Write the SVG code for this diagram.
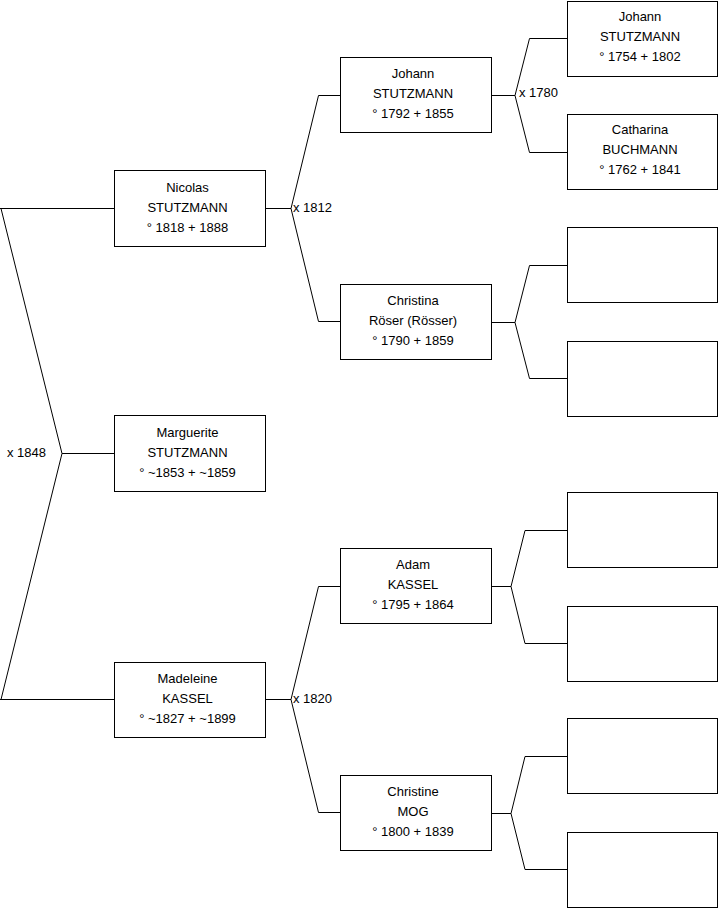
<svg xmlns="http://www.w3.org/2000/svg" width="719" height="908" viewBox="0 0 719 908">
<style>
rect.box{fill:#fff;stroke:#000;stroke-width:1}
path.c{fill:none;stroke:#000;stroke-width:1}
text{font-family:"Liberation Sans",Arial,sans-serif;font-size:13px;fill:#000}
text.n{text-anchor:middle}
</style>
<rect width="719" height="908" fill="#fff"/>
<g id="connectors">
<path class="c" d="M0,208.5 H114 M1,208.5 L62,453.5 L1,699.5 M62,453.5 H114 M0,699.5 H114"/>
<path class="c" d="M265,208.5 H291 M340,95.5 H318.5 L291,208.5 L318.5,321.5 H340"/>
<path class="c" d="M265,699.5 H291 M340,586.5 H318.5 L291,699.5 L318.5,812.5 H340"/>
<path class="c" d="M492,95.5 H515 M567,38.5 H529.5 L515,95.5 L529.5,152.5 H567"/>
<path class="c" d="M492,322.5 H515 M567,265.5 H529.5 L515,322.5 L529.5,378.5 H567"/>
<path class="c" d="M492,586.5 H511 M567,530.5 H525 L511,586.5 L525,643.5 H567"/>
<path class="c" d="M492,813.5 H511 M567,756.5 H525 L511,813.5 L525,869.5 H567"/>
<text x="7" y="457">x 1848</text>
<text x="293" y="212">x 1812</text>
<text x="293" y="703">x 1820</text>
<text x="519" y="97">x 1780</text>
</g>
<g id="nicolas"><rect class="box" x="114.5" y="170.5" width="151" height="76"/>
<text class="n" x="187.5" y="192">Nicolas</text><text class="n" x="187.5" y="212">STUTZMANN</text><text class="n" x="187.5" y="232">° 1818 + 1888</text></g>
<g id="marguerite"><rect class="box" x="114.5" y="415.5" width="151" height="76"/>
<text class="n" x="187.5" y="437">Marguerite</text><text class="n" x="187.5" y="457">STUTZMANN</text><text class="n" x="187.5" y="477">° ~1853 + ~1859</text></g>
<g id="madeleine"><rect class="box" x="114.5" y="662.5" width="151" height="75"/>
<text class="n" x="187.5" y="683">Madeleine</text><text class="n" x="187.5" y="703">KASSEL</text><text class="n" x="187.5" y="723">° ~1827 + ~1899</text></g>
<g id="johann1"><rect class="box" x="340.5" y="57.5" width="151" height="75"/>
<text class="n" x="413" y="78">Johann</text><text class="n" x="413" y="98">STUTZMANN</text><text class="n" x="413" y="118">° 1792 + 1855</text></g>
<g id="christina"><rect class="box" x="340.5" y="284.5" width="151" height="75"/>
<text class="n" x="413" y="305">Christina</text><text class="n" x="413" y="325">Röser (Rösser)</text><text class="n" x="413" y="345">° 1790 + 1859</text></g>
<g id="adam"><rect class="box" x="340.5" y="548.5" width="151" height="75"/>
<text class="n" x="413" y="569">Adam</text><text class="n" x="413" y="589">KASSEL</text><text class="n" x="413" y="609">° 1795 + 1864</text></g>
<g id="christine"><rect class="box" x="340.5" y="775.5" width="151" height="75"/>
<text class="n" x="413" y="796">Christine</text><text class="n" x="413" y="816">MOG</text><text class="n" x="413" y="836">° 1800 + 1839</text></g>
<g id="johann2"><rect class="box" x="567.5" y="1.5" width="150" height="75"/>
<text class="n" x="640" y="21">Johann</text><text class="n" x="640" y="41">STUTZMANN</text><text class="n" x="640" y="61">° 1754 + 1802</text></g>
<g id="catharina"><rect class="box" x="567.5" y="114.5" width="150" height="75"/>
<text class="n" x="640" y="134">Catharina</text><text class="n" x="640" y="154">BUCHMANN</text><text class="n" x="640" y="174">° 1762 + 1841</text></g>
<g id="empty1"><rect class="box" x="567.5" y="227.5" width="150" height="75"/></g>
<g id="empty2"><rect class="box" x="567.5" y="341.5" width="150" height="75"/></g>
<g id="empty3"><rect class="box" x="567.5" y="492.5" width="150" height="75"/></g>
<g id="empty4"><rect class="box" x="567.5" y="606.5" width="150" height="75"/></g>
<g id="empty5"><rect class="box" x="567.5" y="718.5" width="150" height="75"/></g>
<g id="empty6"><rect class="box" x="567.5" y="832.5" width="150" height="75"/></g>
</svg>
